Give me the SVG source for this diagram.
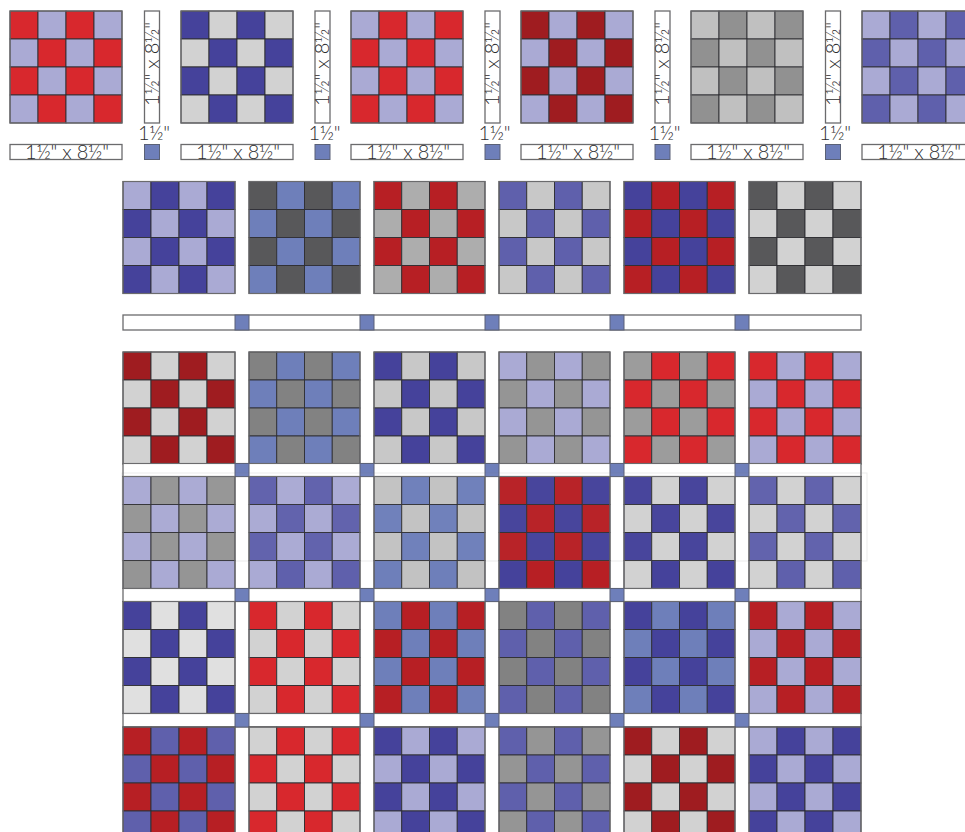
<svg xmlns="http://www.w3.org/2000/svg" width="965" height="832" viewBox="0 0 965 832">
<style>
.a{fill:var(--a)}.b{fill:var(--b)}
.a,.b{stroke:#2f2f33;stroke-width:.9}
.o{fill:none;stroke:#6b6b6d;stroke-width:1.2}
.st{fill:#fff;stroke:#6b6b6d;stroke-width:1.3}
.sq{fill:#6e7fba;stroke:#5a6176;stroke-width:1}
.t{font-family:"Lato","Liberation Sans",sans-serif;font-weight:300;font-size:20px;fill:#2c2c2e;text-anchor:middle}
.aR{--a:#d8282d}.bR{--b:#d8282d}.aC{--a:#b71f24}.bC{--b:#b71f24}.aM{--a:#9f1c20}.bM{--b:#9f1c20}
.aL{--a:#aaaad4}.bL{--b:#aaaad4}.aB{--a:#45429b}.bB{--b:#45429b}.aP{--a:#5f60ac}.bP{--b:#5f60ac}
.aS{--a:#6e7fba}.bS{--b:#6e7fba}.aD{--a:#58585a}.aH{--a:#828282}.bH{--b:#959595}.aI{--a:#9c9c9c}
.bA{--b:#adadad}.aE{--a:#c2c2c2}.bE{--b:#c8c8c8}.aG{--a:#d2d2d2}.bG{--b:#d2d2d2}.bW{--b:#e0e0e0}
.aT{--a:#c0c0c0}.bT{--b:#919191}
</style>
<defs>
<g id="chk">
<rect class="a" x="0" y="0" width="28" height="28"/><rect class="b" x="28" y="0" width="28" height="28"/><rect class="a" x="56" y="0" width="28" height="28"/><rect class="b" x="84" y="0" width="28" height="28"/>
<rect class="b" x="0" y="28" width="28" height="28"/><rect class="a" x="28" y="28" width="28" height="28"/><rect class="b" x="56" y="28" width="28" height="28"/><rect class="a" x="84" y="28" width="28" height="28"/>
<rect class="a" x="0" y="56" width="28" height="28"/><rect class="b" x="28" y="56" width="28" height="28"/><rect class="a" x="56" y="56" width="28" height="28"/><rect class="b" x="84" y="56" width="28" height="28"/>
<rect class="b" x="0" y="84" width="28" height="28"/><rect class="a" x="28" y="84" width="28" height="28"/><rect class="b" x="56" y="84" width="28" height="28"/><rect class="a" x="84" y="84" width="28" height="28"/>
<rect class="o" x="0" y="0" width="112" height="112"/>
</g>
<g id="sash">
<rect class="st" x="123" y="0" width="738" height="15"/>
<rect class="sq" x="235" y="0" width="14" height="15"/><rect class="sq" x="360" y="0" width="14" height="15"/><rect class="sq" x="485" y="0" width="14" height="15"/><rect class="sq" x="610" y="0" width="14" height="15"/><rect class="sq" x="735" y="0" width="14" height="15"/>
</g>
<g id="hs"><rect class="st" x="0" y="0" width="112" height="15"/><text class="t" x="57" y="14" textLength="84">1½" x 8½"</text></g>
<g id="vs"><rect class="st" x="0" y="0" width="15" height="112"/><text class="t" transform="translate(14,53) rotate(-90)" textLength="84">1½" x 8½"</text></g>
<g id="cs"><text class="t" x="9.5" y="-5" textLength="32">1½"</text><rect class="sq" x="0" y="0" width="15" height="15"/></g>
</defs>

<g id="top-row">
<g id="t1"><use href="#chk" x="10" y="11" class="aR bL"/></g>
<g id="t2"><use href="#chk" x="181" y="11" class="aB bG"/></g>
<g id="t3"><use href="#chk" x="351" y="11" class="aL bR"/></g>
<g id="t4"><use href="#chk" x="521" y="11" class="aM bL"/></g>
<g id="t5"><use href="#chk" x="691" y="11" class="aT bT"/></g>
<g id="t6"><use href="#chk" x="862" y="11" class="aL bP"/></g>
<g id="v1"><use href="#vs" x="144.5" y="11"/></g>
<g id="v2"><use href="#vs" x="315" y="11"/></g>
<g id="v3"><use href="#vs" x="485" y="11"/></g>
<g id="v4"><use href="#vs" x="655" y="11"/></g>
<g id="v5"><use href="#vs" x="825.5" y="11"/></g>
<g id="h1"><use href="#hs" x="10" y="144.5"/></g>
<g id="h2"><use href="#hs" x="181" y="144.5"/></g>
<g id="h3"><use href="#hs" x="351" y="144.5"/></g>
<g id="h4"><use href="#hs" x="521" y="144.5"/></g>
<g id="h5"><use href="#hs" x="691" y="144.5"/></g>
<g id="h6"><use href="#hs" x="862" y="144.5"/></g>
<g id="c1"><use href="#cs" x="144.5" y="144.5"/></g>
<g id="c2"><use href="#cs" x="315" y="144.5"/></g>
<g id="c3"><use href="#cs" x="485" y="144.5"/></g>
<g id="c4"><use href="#cs" x="655" y="144.5"/></g>
<g id="c5"><use href="#cs" x="825.5" y="144.5"/></g>
</g>

<g id="row-1">
<g id="r1a"><use href="#chk" transform="translate(123,181.5)" class="aL bB"/></g>
<g id="r1b"><use href="#chk" transform="translate(249,181.5) scale(.991,1)" class="aD bS"/></g>
<g id="r1c"><use href="#chk" transform="translate(374,181.5) scale(.991,1)" class="aC bA"/></g>
<g id="r1d"><use href="#chk" transform="translate(499,181.5) scale(.991,1)" class="aP bE"/></g>
<g id="r1e"><use href="#chk" transform="translate(624,181.5) scale(.991,1)" class="aB bC"/></g>
<g id="r1f"><use href="#chk" transform="translate(749,181.5)" class="aD bG"/></g>
</g>
<g id="sash-1"><use href="#sash" y="315"/></g>

<g id="row-2">
<g id="r2a"><use href="#chk" transform="translate(123,352)" class="aM bG"/></g>
<g id="r2b"><use href="#chk" transform="translate(249,352) scale(.991,1)" class="aH bS"/></g>
<g id="r2c"><use href="#chk" transform="translate(374,352) scale(.991,1)" class="aB bE"/></g>
<g id="r2d"><use href="#chk" transform="translate(499,352) scale(.991,1)" class="aL bH"/></g>
<g id="r2e"><use href="#chk" transform="translate(624,352) scale(.991,1)" class="aI bR"/></g>
<g id="r2f"><use href="#chk" transform="translate(749,352)" class="aR bL"/></g>
</g>
<g id="sash-2"><use href="#sash" transform="translate(0,463.5) scale(1,.87)"/></g>

<g id="row-3">
<g id="r3a"><use href="#chk" transform="translate(123,476.5)" class="aL bH"/></g>
<g id="r3b"><use href="#chk" transform="translate(249,476.5) scale(.991,1)" class="aP bL"/></g>
<g id="r3c"><use href="#chk" transform="translate(374,476.5) scale(.991,1)" class="aE bS"/></g>
<g id="r3d"><use href="#chk" transform="translate(499,476.5) scale(.991,1)" class="aC bB"/></g>
<g id="r3e"><use href="#chk" transform="translate(624,476.5) scale(.991,1)" class="aB bG"/></g>
<g id="r3f"><use href="#chk" transform="translate(749,476.5)" class="aP bG"/></g>
</g>
<g id="sash-3"><use href="#sash" transform="translate(0,588.5) scale(1,.87)"/></g>

<g id="row-4">
<g id="r4a"><use href="#chk" transform="translate(123,601.5)" class="aB bW"/></g>
<g id="r4b"><use href="#chk" transform="translate(249,601.5) scale(.991,1)" class="aR bG"/></g>
<g id="r4c"><use href="#chk" transform="translate(374,601.5) scale(.991,1)" class="aS bC"/></g>
<g id="r4d"><use href="#chk" transform="translate(499,601.5) scale(.991,1)" class="aH bP"/></g>
<g id="r4e"><use href="#chk" transform="translate(624,601.5) scale(.991,1)" class="aB bS"/></g>
<g id="r4f"><use href="#chk" transform="translate(749,601.5)" class="aC bL"/></g>
</g>
<g id="sash-4"><use href="#sash" transform="translate(0,713.5) scale(1,.9)"/></g>

<g id="row-5">
<g id="r5a"><use href="#chk" transform="translate(123,727)" class="aC bP"/></g>
<g id="r5b"><use href="#chk" transform="translate(249,727) scale(.991,1)" class="aG bR"/></g>
<g id="r5c"><use href="#chk" transform="translate(374,727) scale(.991,1)" class="aB bL"/></g>
<g id="r5d"><use href="#chk" transform="translate(499,727) scale(.991,1)" class="aP bH"/></g>
<g id="r5e"><use href="#chk" transform="translate(624,727) scale(.991,1)" class="aM bG"/></g>
<g id="r5f"><use href="#chk" transform="translate(749,727)" class="aL bB"/></g>
</g>
<rect id="veil" x="122" y="473" width="745" height="88" fill="#fff" fill-opacity=".02" stroke="#777" stroke-opacity=".15"/>
</svg>
